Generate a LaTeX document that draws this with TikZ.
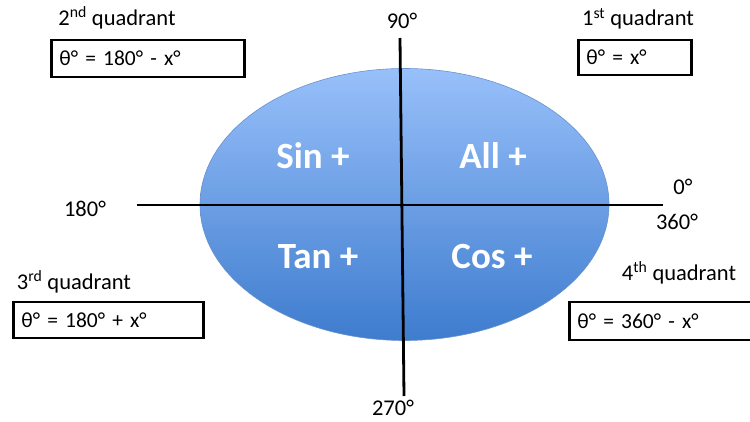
\documentclass[tikz,border=0pt]{standalone}
\usepackage{fontspec}
\setmainfont{Carlito}
\usetikzlibrary{shapes.geometric}
\definecolor{elltop}{RGB}{152,192,250}
\definecolor{ellbot}{RGB}{62,124,206}
\definecolor{ellline}{RGB}{105,145,205}
\tikzset{
  lbl/.style={font=\fontsize{22.5}{26}\selectfont, inner sep=0pt},
  qbox/.style={draw=black, line width=2.8pt, anchor=west, inner xsep=8pt, inner ysep=0pt,
     align=left, font=\fontsize{21.5}{25}\selectfont},
  big/.style={font=\fontsize{37}{44}\selectfont\bfseries, text=white, inner sep=0pt},
  axis/.style={line width=2.8pt, black}
}
\begin{document}
\begin{tikzpicture}[x=1pt,y=-1pt]
\useasboundingbox (0,0) rectangle (750,422);
\node[ellipse, minimum width=409pt, minimum height=272pt, top color=elltop, bottom color=ellbot, draw=ellline, line width=0.6pt] (E) at (404.5,204.5) {};
\coordinate (vt) at (400,38);
\coordinate (vb) at (404,396);
\coordinate (hl) at (137,205);
\coordinate (hr) at (663,205);
\draw[axis] (vt) -- (vb);
\draw[axis] (hl) -- (hr);
\node[big] (sin) at (313,156) {Sin +};
\node[big] (all) at (493,156) {All +};
\node[big] (tan) at (318,257) {Tan +};
\node[big] (cos) at (492,257) {Cos +};
\node[lbl] (a90) at (402,21) {90°};
\node[lbl] (a0) at (683,187) {0°};
\node[lbl] (a360) at (677,222) {360°};
\node[lbl] (a180) at (85,209) {180°};
\node[lbl] (a270) at (393,408) {270°};
\node[lbl] (q2) at (117,18) {2\textsuperscript{nd} quadrant};
\node[lbl] (q1) at (638,19) {1\textsuperscript{st} quadrant};
\node[lbl] (q3) at (74,282) {3\textsuperscript{rd} quadrant};
\node[lbl] (q4) at (679,273) {4\textsuperscript{th} quadrant};
\node[qbox, text width=177pt, minimum height=37pt] (b2) at (50,58.5) {θ° = 180° - x°};
\node[qbox, text width=97pt, minimum height=35pt] (b1) at (577,57.5) {θ° = x°};
\node[qbox, text width=174pt, minimum height=36pt] (b3) at (12,320) {θ° = 180° + x°};
\node[qbox, text width=180pt, minimum height=38pt] (b4) at (568,321) {θ° = 360° - x°};
\end{tikzpicture}
\end{document}
